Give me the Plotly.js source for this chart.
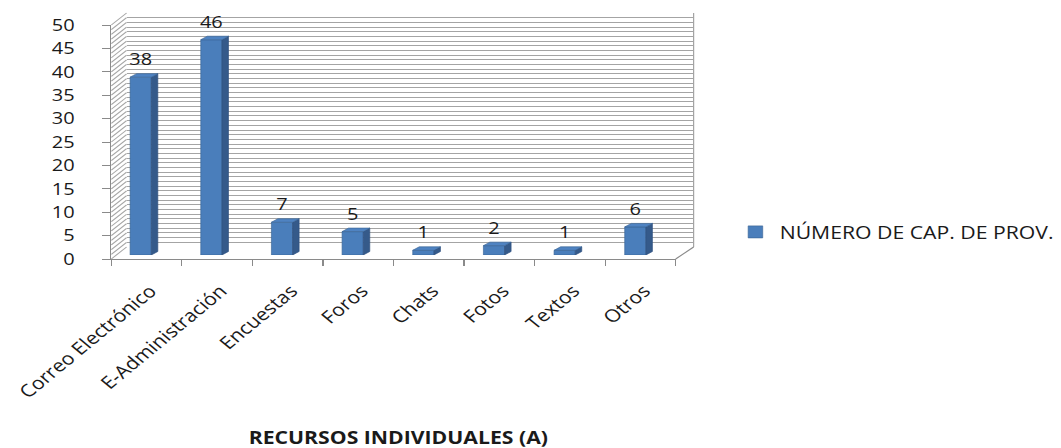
<!DOCTYPE html>
<html>
<head>
<meta charset="utf-8">
<script src="https://cdn.plot.ly/plotly-3.0.1.min.js"></script>
<style>
  html, body { margin: 0; padding: 0; background: #ffffff; overflow: hidden; }
  /* the chart is laid out in a narrower frame and widened to the page */
  #chart { width: 875px; height: 448px; transform: scaleX(1.212571); transform-origin: 0 0; }
</style>
</head>
<body>
<div id="chart"></div>
<script>
// ---- data ----
const categories = ['Correo Electrónico', 'E-Administración', 'Encuestas', 'Foros', 'Chats', 'Fotos', 'Textos', 'Otros'];
const counts = [38, 46, 7, 5, 1, 2, 1, 6];
const seriesName = 'NÚMERO DE CAP. DE PROV.';
const yTickValues = [0, 5, 10, 15, 20, 25, 30, 35, 40, 45, 50];
const axisTitle = 'RECURSOS INDIVIDUALES (A)';

// ---- page geometry (page pixels) ----
const PAGE_W = 1061, PAGE_H = 448;
const fx = p => p / PAGE_W;          // page x -> paper fraction
const fy = p => 1 - p / PAGE_H;      // page y -> paper fraction
const Y_MAX = 50;

const FRONT = { left: 111.7, right: 678, base: 259, top: 25 };   // front plane of the box
const BACK  = { left: 127,   right: 696, base: 247, top: 13 };   // back wall
const BARS  = { left: 105.75, right: 672.95, base: 255, top: 21 }; // plane the bars stand in

const FONT = '"Open Sans", "Liberation Sans", sans-serif';
const TXT = '#1a1a1a';
const GRID = '#a4a4a4';
const EDGE = '#8a8a8a';

// bar block proportions (data units of the bar axes)
const BAR_W = 0.3, DEPTH_X = 0.092, DEPTH_Y = 0.75;
const LABEL_LIFT = 0.9;   // gap between a block's top and its value label
const idx = categories.map((c, i) => i);

// side and top faces of each block, built from the values
const sideX = [], sideY = [], topX = [], topY = [];
counts.forEach((v, i) => {
  const r = i + BAR_W / 2, l = i - BAR_W / 2;
  sideX.push(r, r + DEPTH_X, r + DEPTH_X, r, r, null);
  sideY.push(0, DEPTH_Y, v + DEPTH_Y, v, 0, null);
  topX.push(l, r, r + DEPTH_X, l + DEPTH_X, l, null);
  topY.push(v, v, v + DEPTH_Y, v + DEPTH_Y, v, null);
});

const traces = [
  // back wall subplot (carries the dense horizontal grid)
  { type: 'scatter', x: [0, 1], y: [0, Y_MAX], xaxis: 'x', yaxis: 'y', mode: 'markers',
    marker: { opacity: 0 }, hoverinfo: 'skip', showlegend: false },
  // front plane subplot (axis lines, ticks and labels)
  { type: 'scatter', x: idx, y: counts, xaxis: 'x2', yaxis: 'y2', mode: 'markers',
    marker: { opacity: 0 }, hoverinfo: 'skip', showlegend: false },
  // front faces of the blocks
  { type: 'bar', name: seriesName, x: idx, y: counts, xaxis: 'x3', yaxis: 'y3', width: BAR_W,
    marker: { color: '#4a7ebb', line: { color: '#3b6596', width: 0.6 } }, hoverinfo: 'y' },
  { type: 'scatter', x: sideX, y: sideY, xaxis: 'x3', yaxis: 'y3', mode: 'lines', fill: 'toself',
    fillcolor: '#355a8a', line: { color: '#2f5080', width: 0.6 }, hoverinfo: 'skip', showlegend: false },
  { type: 'scatter', x: topX, y: topY, xaxis: 'x3', yaxis: 'y3', mode: 'lines', fill: 'toself',
    fillcolor: '#4f83c2', line: { color: '#3b6596', width: 0.6 }, hoverinfo: 'skip', showlegend: false },
  // value labels
  { type: 'scatter', x: idx, y: counts.map(v => v + DEPTH_Y + LABEL_LIFT), xaxis: 'x3', yaxis: 'y3', mode: 'text',
    text: counts.map(String), textposition: 'top center', cliponaxis: false,
    textfont: { family: FONT, size: 16.5, color: TXT }, hoverinfo: 'skip', showlegend: false }
];

// diagonal lines on the left side wall, one per grid step
const shapes = [];
for (let k = 0; k <= Y_MAX; k++) {
  const yf = FRONT.base - (FRONT.base - FRONT.top) * k / Y_MAX;
  const yb = BACK.base - (BACK.base - BACK.top) * k / Y_MAX;
  shapes.push({ type: 'line', xref: 'paper', yref: 'paper', layer: 'below',
    x0: fx(FRONT.left), y0: fy(yf), x1: fx(BACK.left), y1: fy(yb),
    line: { color: GRID, width: 1 } });
}
// right edge of the back wall and right edge of the floor
shapes.push({ type: 'line', xref: 'paper', yref: 'paper', layer: 'below',
  x0: fx(BACK.right), y0: fy(BACK.base), x1: fx(BACK.right), y1: fy(BACK.top),
  line: { color: GRID, width: 1 } });
shapes.push({ type: 'line', xref: 'paper', yref: 'paper', layer: 'below',
  x0: fx(FRONT.right), y0: fy(FRONT.base), x1: fx(BACK.right), y1: fy(BACK.base),
  line: { color: EDGE, width: 1 } });

const layout = {
  width: 875, height: PAGE_H,
  margin: { l: 0, r: 0, t: 0, b: 0, pad: 0 },
  paper_bgcolor: '#ffffff', plot_bgcolor: 'rgba(0,0,0,0)',
  font: { family: FONT, color: TXT },
  showlegend: true,
  bargap: 0,
  // back wall
  xaxis: { domain: [fx(BACK.left), fx(BACK.right)], range: [0, 1], visible: false, fixedrange: true },
  yaxis: { domain: [fy(BACK.base), fy(BACK.top)], range: [0, Y_MAX], anchor: 'x',
    tickmode: 'linear', tick0: 0, dtick: 1, showgrid: true, gridcolor: GRID, gridwidth: 1,
    showticklabels: false, ticks: '', zeroline: false, showline: false, fixedrange: true },
  // front plane
  xaxis2: { domain: [fx(FRONT.left), fx(FRONT.right)], range: [-0.5, 7.5], anchor: 'y2',
    tickmode: 'array', tickvals: idx, ticktext: categories, ticks: '', tickangle: -45,
    ticklabelstandoff: 14, ticklabelshift: 3,
    tickfont: { family: FONT, size: 17.5, color: TXT },
    minor: { tickmode: 'linear', tick0: -0.5, dtick: 1, ticks: 'outside', ticklen: 6, tickwidth: 1, tickcolor: EDGE, showgrid: false },
    showgrid: false, zeroline: false, showline: true, linecolor: EDGE, linewidth: 1, fixedrange: true },
  yaxis2: { domain: [fy(FRONT.base), fy(FRONT.top)], range: [0, Y_MAX], anchor: 'x2',
    tickmode: 'array', tickvals: yTickValues, ticks: 'outside', ticklen: 7, tickwidth: 1, tickcolor: EDGE,
    ticklabelstandoff: 19,
    tickfont: { family: FONT, size: 16.5, color: TXT },
    showgrid: false, zeroline: false, showline: true, linecolor: EDGE, linewidth: 1, fixedrange: true },
  // plane of the blocks
  xaxis3: { domain: [fx(BARS.left), fx(BARS.right)], range: [-0.5, 7.5], anchor: 'y3', visible: false, fixedrange: true },
  yaxis3: { domain: [fy(BARS.base), fy(BARS.top)], range: [0, Y_MAX], anchor: 'x3', visible: false, fixedrange: true },
  legend: { x: fx(734), y: fy(232), xanchor: 'left', yanchor: 'middle', bgcolor: 'rgba(0,0,0,0)',
    font: { family: FONT, size: 17.5, color: TXT } },
  annotations: [{ text: axisTitle, xref: 'paper', yref: 'paper', x: fx(400), y: fy(437),
    xanchor: 'center', yanchor: 'middle', showarrow: false,
    font: { family: FONT, size: 17.5, color: TXT, weight: 700 } }],
  shapes: shapes
};

Plotly.newPlot('chart', traces, layout, { staticPlot: true, displayModeBar: false });
</script>
</body>
</html>
